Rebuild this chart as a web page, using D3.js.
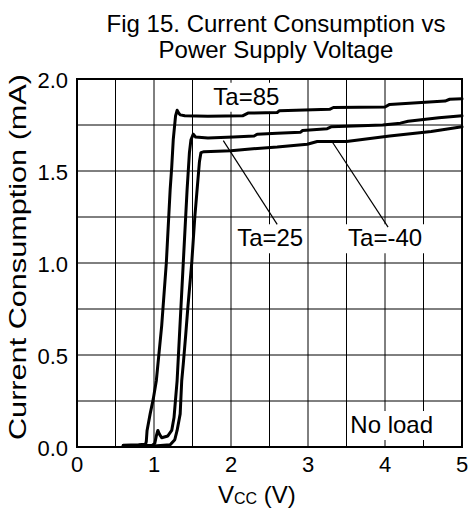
<!DOCTYPE html>
<html>
<head>
<meta charset="utf-8">
<script src="https://cdn.jsdelivr.net/npm/d3@7"></script>
<style>
  body { margin: 0; background: #fff; }
  svg text { font-family: "Liberation Sans", Arial, sans-serif; fill: #000; }
</style>
</head>
<body>
<div id="container"></div>
<script>
// curves: [Vcc (V), current (mA)]
var ta85 = [[0.60,0.01],[0.80,0.012],[0.89,0.015],[0.90,0.03],[0.91,0.09],[0.95,0.18],[0.99,0.26],
  [1.03,0.36],[1.10,0.66],[1.16,1.00],[1.21,1.40],[1.23,1.52],[1.25,1.67],[1.28,1.80],[1.30,1.83],
  [1.32,1.815],[1.34,1.805],[1.40,1.80],[1.70,1.797],[2.15,1.80],[2.22,1.815],[2.60,1.818],
  [2.63,1.828],[3.28,1.835],[3.33,1.845],[4.00,1.848],[4.06,1.862],[4.78,1.88],[4.84,1.89],[5.00,1.892]];

var ta25 = [[0.60,0.008],[0.98,0.01],[1.01,0.02],[1.03,0.06],[1.05,0.09],[1.07,0.07],[1.10,0.05],
  [1.18,0.06],[1.23,0.09],[1.26,0.16],[1.28,0.26],[1.30,0.36],[1.33,0.60],[1.35,0.76],[1.38,1.00],
  [1.43,1.40],[1.46,1.60],[1.48,1.67],[1.51,1.70],[1.54,1.685],[1.70,1.68],[2.03,1.685],[2.30,1.69],
  [2.34,1.70],[2.60,1.705],[2.90,1.71],[2.93,1.72],[3.25,1.73],[3.30,1.74],[3.97,1.75],[4.20,1.76],
  [4.30,1.77],[4.70,1.79],[5.00,1.80]];

var taMinus40 = [[0.60,0.005],[1.00,0.005],[1.21,0.012],[1.27,0.04],[1.30,0.09],[1.34,0.18],[1.36,0.36],
  [1.38,0.45],[1.41,0.60],[1.44,0.76],[1.49,1.00],[1.53,1.25],[1.56,1.40],[1.59,1.55],[1.61,1.60],
  [1.65,1.605],[2.00,1.61],[2.25,1.62],[2.60,1.63],[2.99,1.645],[3.12,1.66],[3.50,1.66],[4.06,1.69],
  [4.60,1.715],[5.00,1.74]];

var xTicks = [0, 1, 2, 3, 4, 5];
var yTicks = [0, 0.5, 1.0, 1.5, 2.0];
var xGrid = d3.range(0.5, 5, 0.5);
var yGrid = d3.range(0.25, 2, 0.25);

var width = 468, height = 511;
var margin = {top: 79, right: 6, bottom: 64, left: 77};

var svg = d3.select("#container").append("svg")
    .attr("width", width)
    .attr("height", height);

var x = d3.scaleLinear().domain([0, 5]).range([margin.left, width - margin.right]);
var y = d3.scaleLinear().domain([0, 2]).range([height - margin.bottom, margin.top]);

// title
var title = svg.append("text")
    .attr("text-anchor", "middle")
    .style("font-size", "24px");
title.append("tspan").attr("x", 276).attr("y", 32).text("Fig 15. Current Consumption vs");
title.append("tspan").attr("x", 276).attr("y", 58).text("Power Supply Voltage");

// grid
svg.append("g").selectAll("line")
  .data(xGrid)
  .enter().append("line")
    .attr("x1", function(d) { return x(d); })
    .attr("x2", function(d) { return x(d); })
    .attr("y1", y(0))
    .attr("y2", y(2))
    .attr("stroke", "#000")
    .attr("stroke-width", 1);

svg.append("g").selectAll("line")
  .data(yGrid)
  .enter().append("line")
    .attr("y1", function(d) { return y(d); })
    .attr("y2", function(d) { return y(d); })
    .attr("x1", x(0))
    .attr("x2", x(5))
    .attr("stroke", "#000")
    .attr("stroke-width", 1);

// tick labels
svg.append("g").selectAll("text")
  .data(xTicks)
  .enter().append("text")
    .attr("x", function(d) { return x(d); })
    .attr("y", y(0) + 25)
    .attr("text-anchor", "middle")
    .style("font-size", "22px")
    .text(function(d) { return d; });

svg.append("g").selectAll("text")
  .data(yTicks)
  .enter().append("text")
    .attr("x", x(0) - 9)
    .attr("y", function(d) { return y(d) + 9; })
    .attr("text-anchor", "end")
    .style("font-size", "22px")
    .text(function(d) { return d.toFixed(1); });

// axis titles
svg.append("text")
    .attr("transform", "translate(26,257) rotate(-90)")
    .attr("text-anchor", "middle")
    .attr("textLength", 366)
    .attr("lengthAdjust", "spacingAndGlyphs")
    .style("font-size", "24px")
    .text("Current Consumption (mA)");

var xl = svg.append("text")
    .attr("x", 218)
    .attr("y", 503)
    .style("font-size", "24px");
xl.append("tspan").text("V");
xl.append("tspan").style("font-size", "16px").attr("dy", 1).text("CC");
xl.append("tspan").attr("dy", -1).text(" (V)");

// labels with white boxes behind them
var labels = [
  {text: "Ta=85", v: 1.77, i: 1.86},
  {text: "Ta=25", v: 2.08, i: 1.091},
  {text: "Ta=-40", v: 3.52, i: 1.091},
  {text: "No load", v: 3.55, i: 0.076}
];

var boxG = svg.append("g");
var labelG = svg.append("g");

labels.forEach(function(l) {
  var t = labelG.append("text")
      .attr("x", x(l.v))
      .attr("y", y(l.i))
      .style("font-size", "24px")
      .text(l.text);
  var b = t.node().getBBox();
  boxG.append("rect")
      .attr("x", b.x - 3)
      .attr("y", b.y)
      .attr("width", b.width + 5)
      .attr("height", b.height + 2)
      .attr("fill", "#fff");
});

// curves
var line = d3.line()
    .x(function(d) { return x(d[0]); })
    .y(function(d) { return y(d[1]); });

[ta85, ta25, taMinus40].forEach(function(s) {
  svg.append("path")
      .datum(s)
      .attr("d", line)
      .attr("fill", "none")
      .attr("stroke", "#000")
      .attr("stroke-width", 3)
      .attr("stroke-linejoin", "round")
      .attr("stroke-linecap", "round");
});

// leader lines
var leaders = [
  [[1.90, 1.665], [2.60, 1.21]],
  [[3.32, 1.655], [4.04, 1.195]]
];
svg.append("g").selectAll("line")
  .data(leaders)
  .enter().append("line")
    .attr("x1", function(d) { return x(d[0][0]); })
    .attr("y1", function(d) { return y(d[0][1]); })
    .attr("x2", function(d) { return x(d[1][0]); })
    .attr("y2", function(d) { return y(d[1][1]); })
    .attr("stroke", "#000")
    .attr("stroke-width", 1.2);

// frame
svg.append("rect")
    .attr("x", x(0))
    .attr("y", y(2))
    .attr("width", x(5) - x(0))
    .attr("height", y(0) - y(2))
    .attr("fill", "none")
    .attr("stroke", "#000")
    .attr("stroke-width", 2);
</script>
</body>
</html>
